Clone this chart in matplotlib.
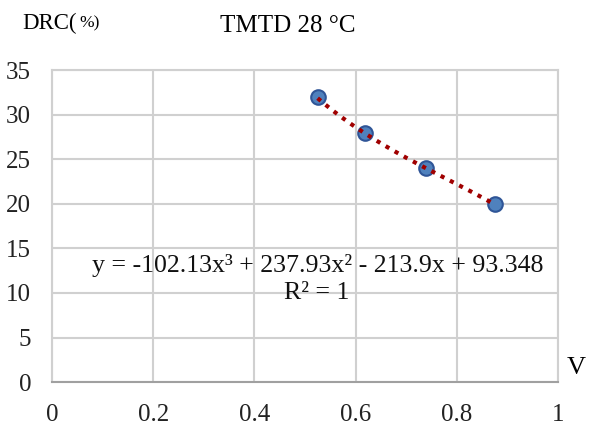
import numpy as np
import matplotlib
matplotlib.use("Agg")
import matplotlib.pyplot as plt

plt.rcParams['font.family'] = ['Liberation Serif', 'DejaVu Serif']

x_vals = [0.525, 0.618, 0.740, 0.875]
y_vals = [32.0, 28.0, 24.0, 20.0]
coeffs = [-102.13, 237.93, -213.9, 93.348]
x_ticks = [0, 0.2, 0.4, 0.6, 0.8, 1]
x_tick_labels = ['0', '0.2', '0.4', '0.6', '0.8', '1']
y_ticks = [0, 5, 10, 15, 20, 25, 30, 35]

fig = plt.figure(figsize=(5.98, 4.25), dpi=100)
ax = fig.add_axes([0.087, 0.101, 0.846, 0.734])

grid_c = '#D0D0D0'
ax.set_xlim(0, 1)
ax.set_ylim(0, 35)
ax.set_xticks(x_ticks)
ax.set_xticklabels(x_tick_labels)
ax.set_yticks(y_ticks)
ax.grid(True, color=grid_c, linewidth=1.5)
ax.set_axisbelow(True)
for s in ax.spines.values():
    s.set_color(grid_c)
    s.set_linewidth(1.5)
ax.spines['bottom'].set_color('#A0A0A0')
ax.tick_params(length=0, labelsize=18, colors='#222222')
ax.tick_params(axis='x', pad=16)
ax.tick_params(axis='y', pad=15)

xs = np.linspace(min(x_vals), max(x_vals), 200)
ax.plot(xs, np.polyval(coeffs, xs), color='#A00000', linestyle=(0, (1, 1.5)),
        linewidth=3.0, zorder=3)
ax.scatter(x_vals, y_vals, s=110, color='#4F81BD', edgecolor='#2F5597',
           linewidth=1.5, zorder=2)

ax.text(0.526, 13.1, 'y = -102.13x³ + 237.93x² - 213.9x + 93.348',
        ha='center', va='center', fontsize=18.6, color='#111111')
ax.text(0.523, 10.0, 'R² = 1', ha='center', va='center', fontsize=18.6,
        color='#111111')

fig.text(0.037, 0.944, 'DRC(', fontsize=16.5, ha='left', va='center')
fig.text(0.133, 0.944, '%)', fontsize=12.5, ha='left', va='center')
fig.text(0.368, 0.939, 'TMTD 28 °C', fontsize=18, ha='left', va='center')
fig.text(0.963, 0.134, 'V', fontsize=19, ha='center', va='center')

fig.savefig('out.png', dpi=100)
